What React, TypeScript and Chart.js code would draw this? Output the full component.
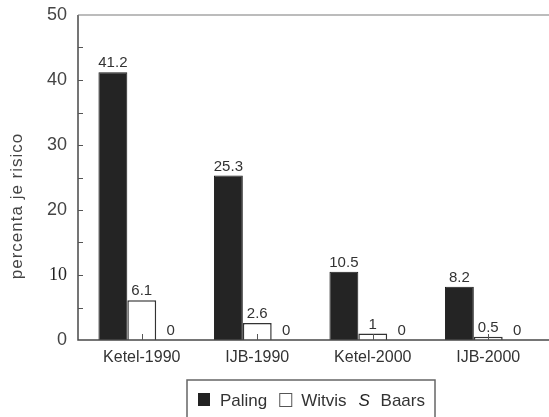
import React, { useEffect, useRef } from 'react';
import { Chart, registerables } from 'chart.js';

Chart.register(...registerables);

const categories = ['Ketel-1990', 'IJB-1990', 'Ketel-2000', 'IJB-2000'];
const paling = [41.2, 25.3, 10.5, 8.2];
const witvis = [6.1, 2.6, 1, 0.5];
const baars = [0, 0, 0, 0];
const seriesNames = ['Paling', 'Witvis', 'Baars'];
const legendMarks = ['filled', 'open', 'S'];
const yMin = 0;
const yMax = 50;
const yStep = 10;
const yTitle = 'percenta je risico';

const SANS = '"Liberation Sans", Arial, Helvetica, sans-serif';
const SERIF = '"Liberation Serif", "Times New Roman", serif';

const framePlugin = {
  id: 'frame',
  afterDraw(chart: any) {
    const { ctx, chartArea, scales } = chart;
    const { left, top, bottom } = chartArea;
    const x = scales.x;
    const y = scales.y;
    const axisX = left - 6;
    const W = chart.width;
    ctx.save();

    // axes frame
    ctx.strokeStyle = '#484848';
    ctx.lineWidth = 1.5;
    ctx.beginPath();
    ctx.moveTo(axisX, top);
    ctx.lineTo(axisX, bottom);
    ctx.lineTo(W, bottom);
    ctx.stroke();
    ctx.strokeStyle = '#7a7a7a';
    ctx.lineWidth = 1.2;
    ctx.beginPath();
    ctx.moveTo(axisX, top);
    ctx.lineTo(W, top);
    ctx.stroke();

    // y ticks (inward) every half step
    ctx.strokeStyle = '#555';
    ctx.lineWidth = 1;
    for (let v = yMin + yStep / 2; v < yMax; v += yStep / 2) {
      const py = Math.round(y.getPixelForValue(v)) + 0.5;
      ctx.beginPath();
      ctx.moveTo(axisX, py);
      ctx.lineTo(axisX + 5, py);
      ctx.stroke();
    }
    // x ticks at category centres
    categories.forEach((_, i) => {
      const px = Math.round(x.getPixelForValue(i)) + 0.5;
      ctx.beginPath();
      ctx.moveTo(px, bottom);
      ctx.lineTo(px, bottom - 6);
      ctx.stroke();
    });

    // value labels
    ctx.fillStyle = '#333';
    ctx.font = `15px ${SANS}`;
    ctx.textAlign = 'center';
    ctx.textBaseline = 'alphabetic';
    chart.data.datasets.forEach((ds: any, di: number) => {
      const meta = chart.getDatasetMeta(di);
      meta.data.forEach((el: any, i: number) => {
        const v = ds.data[i];
        ctx.fillText(String(v), el.x, el.y - 5);
      });
    });

    // y title
    ctx.save();
    ctx.translate(17, 206);
    ctx.rotate(-Math.PI / 2);
    ctx.font = `17px ${SANS}`;
    (ctx as any).letterSpacing = '1px';
    ctx.fillStyle = '#444';
    ctx.textAlign = 'center';
    ctx.textBaseline = 'middle';
    ctx.fillText(yTitle, 0, 0);
    ctx.restore();

    // legend
    const boxL = 187;
    const boxT = 380;
    const boxR = 435;
    ctx.strokeStyle = '#666';
    ctx.lineWidth = 1.5;
    ctx.strokeRect(boxL, boxT, boxR - boxL, 60);
    let lx = boxL + 11;
    const cy = 400;
    ctx.textBaseline = 'middle';
    ctx.textAlign = 'left';
    seriesNames.forEach((name, i) => {
      const mark = legendMarks[i];
      if (mark === 'filled') {
        ctx.fillStyle = '#222';
        ctx.fillRect(lx, cy - 7, 12, 13);
      } else if (mark === 'open') {
        ctx.fillStyle = '#fff';
        ctx.fillRect(lx, cy - 7, 12, 13);
        ctx.strokeStyle = '#555';
        ctx.lineWidth = 1;
        ctx.strokeRect(lx + 0.5, cy - 6.5, 12, 13);
      } else {
        ctx.fillStyle = '#222';
        ctx.font = `italic 17px ${SANS}`;
        ctx.fillText('S', lx, cy + 1);
      }
      lx += 22;
      ctx.fillStyle = '#333';
      ctx.font = `17px ${SANS}`;
      ctx.fillText(name, lx, cy + 1);
      lx += ctx.measureText(name).width + 12;
    });

    ctx.restore();
  },
};

export default function App() {
  const ref = useRef<HTMLCanvasElement | null>(null);
  useEffect(() => {
    document.body.style.margin = '0';
    const canvas = ref.current;
    if (!canvas) return;
    const chart = new Chart(canvas, {
      type: 'bar',
      data: {
        labels: categories,
        datasets: [
          {
            label: seriesNames[0],
            data: paling,
            backgroundColor: '#242424',
            borderColor: '#1a1a1a',
            borderWidth: 1,
          },
          {
            label: seriesNames[1],
            data: witvis,
            backgroundColor: '#ffffff',
            borderColor: '#333',
            borderWidth: 1.5,
          },
          {
            label: seriesNames[2],
            data: baars,
            backgroundColor: '#888',
            borderColor: '#333',
            borderWidth: 0,
          },
        ],
      },
      options: {
        animation: false,
        responsive: false,
        maintainAspectRatio: false,
        layout: { padding: { top: 15, right: 3, left: 0, bottom: 0 } },
        plugins: { legend: { display: false }, tooltip: { enabled: false } },
        datasets: { bar: { categoryPercentage: 0.75, barPercentage: 1.0 } },
        scales: {
          x: {
            grid: { display: false, drawTicks: false },
            border: { display: false },
            ticks: {
              font: { family: SANS, size: 16 },
              color: '#333',
              padding: 8,
              maxRotation: 0,
            },
            afterFit(s: any) {
              s.height = 77;
              s.paddingLeft = 0;
              s.paddingRight = 0;
            },
          },
          y: {
            min: yMin,
            max: yMax,
            grid: { display: false, drawTicks: false },
            border: { display: false },
            ticks: {
              stepSize: yStep,
              padding: 17,
              color: (c: any) => (c.tick && c.tick.value === 10 ? '#222' : '#444'),
              font: (c: any) =>
                c.tick && c.tick.value === 10
                  ? { family: SERIF, size: 18 }
                  : { family: SANS, size: 18 },
            },
            afterFit(s: any) {
              s.width = 84;
              s.paddingTop = 0;
              s.paddingBottom = 0;
            },
          },
        },
      } as any,
      plugins: [framePlugin],
    });
    return () => chart.destroy();
  }, []);
  return (
    <div style={{ width: 549, height: 417 }}>
      <canvas ref={ref} width={549} height={417} style={{ width: 549, height: 417, display: 'block' }} />
    </div>
  );
}
